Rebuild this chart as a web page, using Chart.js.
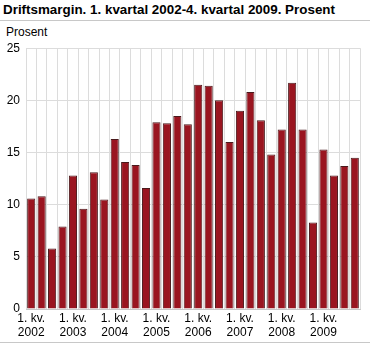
<!DOCTYPE html>
<html>
<head>
<meta charset="utf-8">
<script src="https://cdn.jsdelivr.net/npm/chart.js@4"></script>
<style>
  body { margin: 0; background: #fff; font-family: "Liberation Sans", Arial, sans-serif; }
  #wrap { position: relative; width: 370px; height: 345px; }
  #tittel { position: absolute; left: 3px; top: 2px; width: 367px; font-size: 13.4px; font-weight: bold; color: #000; }
  #strek1 { position: absolute; left: 0; top: 20px; width: 370px; height: 1px; background: #c8c8c8; }
  #enhet { position: absolute; left: 6px; top: 25px; font-size: 12px; color: #000; }
  #strek2 { position: absolute; left: 0; top: 342px; width: 370px; height: 1px; background: #c8c8c8; }
  #boks { position: absolute; left: 0; top: 35px; width: 370px; height: 306px; }
</style>
</head>
<body>
<div id="wrap">
  <div id="tittel">Driftsmargin. 1. kvartal 2002-4. kvartal 2009. Prosent</div>
  <div id="strek1"></div>
  <div id="enhet">Prosent</div>
  <div id="boks"><canvas id="graf"></canvas></div>
  <div id="strek2"></div>
</div>
<script>
// Kvartaler 2002-2009
const aar = ["2002", "2003", "2004", "2005", "2006", "2007", "2008", "2009"];
const kvartal = [];
for (const a of aar) {
    for (let k = 1; k <= 4; k++) {
        kvartal.push(k + ". kv. " + a);
    }
}

// Driftsmargin i prosent, ett tall per kvartal
const driftsmargin = [
    10.6, 10.8, 5.8, 7.9,
    12.8, 9.6, 13.1, 10.5,
    16.3, 14.1, 13.8, 11.6,
    17.9, 17.8, 18.5, 17.7,
    21.5, 21.4, 20.0, 16.0,
    19.0, 20.8, 18.1, 14.8,
    17.2, 21.7, 17.2, 8.3,
    15.3, 12.8, 13.7, 14.5
];

// Etiketter under aksen: bare første kvartal hvert år
const aksetekst = kvartal.map(function (k, i) {
    return i % 4 === 0 ? ["1. kv.", aar[i / 4]] : "";
});

const skrift = { family: "'Liberation Sans', Arial, sans-serif", size: 12 };

new Chart(document.querySelector("#graf"), {
    type: "bar",
    data: {
        labels: kvartal,
        datasets: [{
            label: "Driftsmargin",
            data: driftsmargin,
            backgroundColor: "#9a1520",
            borderColor: "#4a1a1c",
            borderWidth: 1,
            barPercentage: 0.78,
            categoryPercentage: 1
        }]
    },
    options: {
        responsive: true,
        maintainAspectRatio: false,
        animation: false,
        layout: { padding: { top: 3, right: 10, left: 0, bottom: 0 } },
        plugins: {
            legend: { display: false },
            tooltip: { enabled: false }
        },
        scales: {
            x: {
                grid: { color: "#dcdcdc", offset: true, drawTicks: false },
                border: { color: "#c8c8c8" },
                ticks: {
                    color: "#000",
                    font: skrift,
                    autoSkip: false,
                    maxRotation: 0,
                    padding: 2,
                    callback: function (v, i) { return aksetekst[i]; }
                },
                afterFit: function (s) { s.height = 32; }
            },
            y: {
                min: 0,
                max: 25,
                grid: { color: "#dcdcdc", drawTicks: false },
                border: { display: false },
                ticks: {
                    stepSize: 5,
                    color: "#000",
                    font: skrift,
                    padding: 6
                },
                afterFit: function (s) { s.width = 26; }
            }
        }
    }
});
</script>
</body>
</html>
